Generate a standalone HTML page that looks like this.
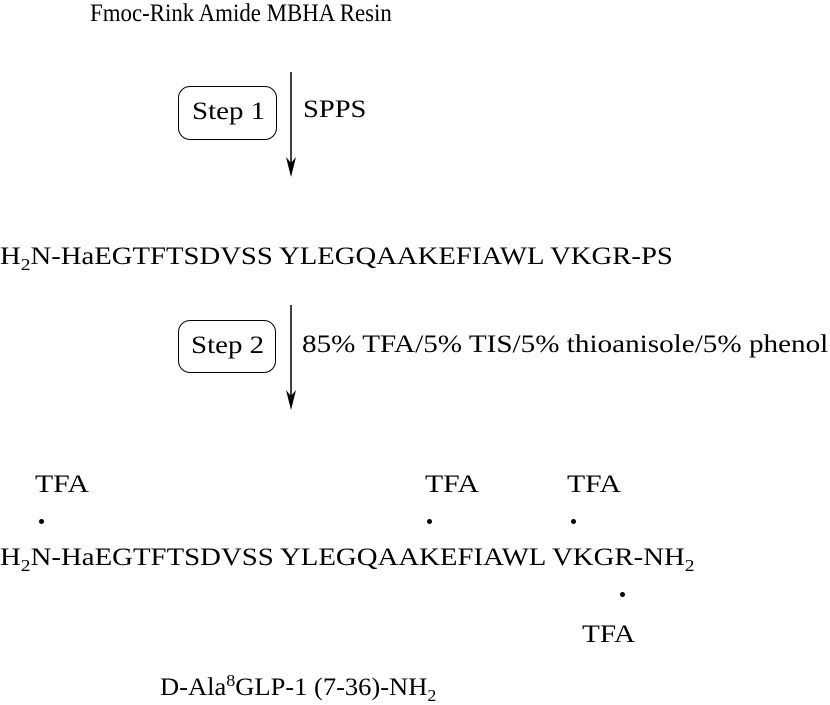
<!DOCTYPE html>
<html><head><meta charset="utf-8"><style>
html,body{margin:0;padding:0;background:#fff;}
.t{position:absolute;font-family:"Liberation Serif","Times New Roman",serif;font-size:25px;line-height:1;white-space:nowrap;transform-origin:0 0;color:#000;}
.t sub{font-size:17px;vertical-align:-6px;line-height:0;}
.t sup{font-size:17px;vertical-align:9px;line-height:0;}
.box{position:absolute;border:1.5px solid #000;border-radius:12px;box-sizing:border-box;}
.dot{position:absolute;width:5px;height:5px;border-radius:50%;background:#000;}
</style></head><body>
<div class="t" style="left:90px;top:1px;transform:scaleX(0.915)">Fmoc-Rink Amide MBHA Resin</div>
<div class="box" style="left:178px;top:86px;width:99px;height:54px"></div>
<div class="t" style="left:192px;top:99px;transform:scaleX(1.157)">Step 1</div>
<div class="t" style="left:303px;top:97px;transform:scaleX(1.14)">SPPS</div>
<div class="t" style="left:0px;top:244px;transform:scaleX(1.148)">H<sub>2</sub>N-HaEGTFTSDVSS YLEGQAAKEFIAWL VKGR-PS</div>
<div class="box" style="left:178px;top:320px;width:98px;height:53px"></div>
<div class="t" style="left:191px;top:333px;transform:scaleX(1.157)">Step 2</div>
<div class="t" style="left:302px;top:332px;transform:scaleX(1.166)">85% TFA/5% TIS/5% thioanisole/5% phenol</div>
<div class="t" style="left:35px;top:472px;transform:scaleX(1.19)">TFA</div>
<div class="t" style="left:425px;top:472px;transform:scaleX(1.19)">TFA</div>
<div class="t" style="left:567px;top:472px;transform:scaleX(1.19)">TFA</div>
<div class="dot" style="left:39px;top:519px"></div>
<div class="dot" style="left:427px;top:519px"></div>
<div class="dot" style="left:571px;top:519px"></div>
<div class="t" style="left:0px;top:545px;transform:scaleX(1.152)">H<sub>2</sub>N-HaEGTFTSDVSS YLEGQAAKEFIAWL VKGR-NH<sub>2</sub></div>
<div class="dot" style="left:620px;top:592px"></div>
<div class="t" style="left:582px;top:622px;transform:scaleX(1.17)">TFA</div>
<div class="t" style="left:160px;top:675px;transform:scaleX(1.06)">D-Ala<sup>8</sup>GLP-1 (7-36)-NH<sub>2</sub></div>
<svg width="830" height="702" style="position:absolute;left:0;top:0" xmlns="http://www.w3.org/2000/svg">
<line x1="291" y1="72" x2="291" y2="165" stroke="#000" stroke-width="1.5"/>
<path d="M286,157 L291,177 L296,157 L291,163 Z"/>
<line x1="291" y1="305" x2="291" y2="398" stroke="#000" stroke-width="1.5"/>
<path d="M286,390 L291,410 L296,390 L291,396 Z"/>
</svg>
</body></html>
